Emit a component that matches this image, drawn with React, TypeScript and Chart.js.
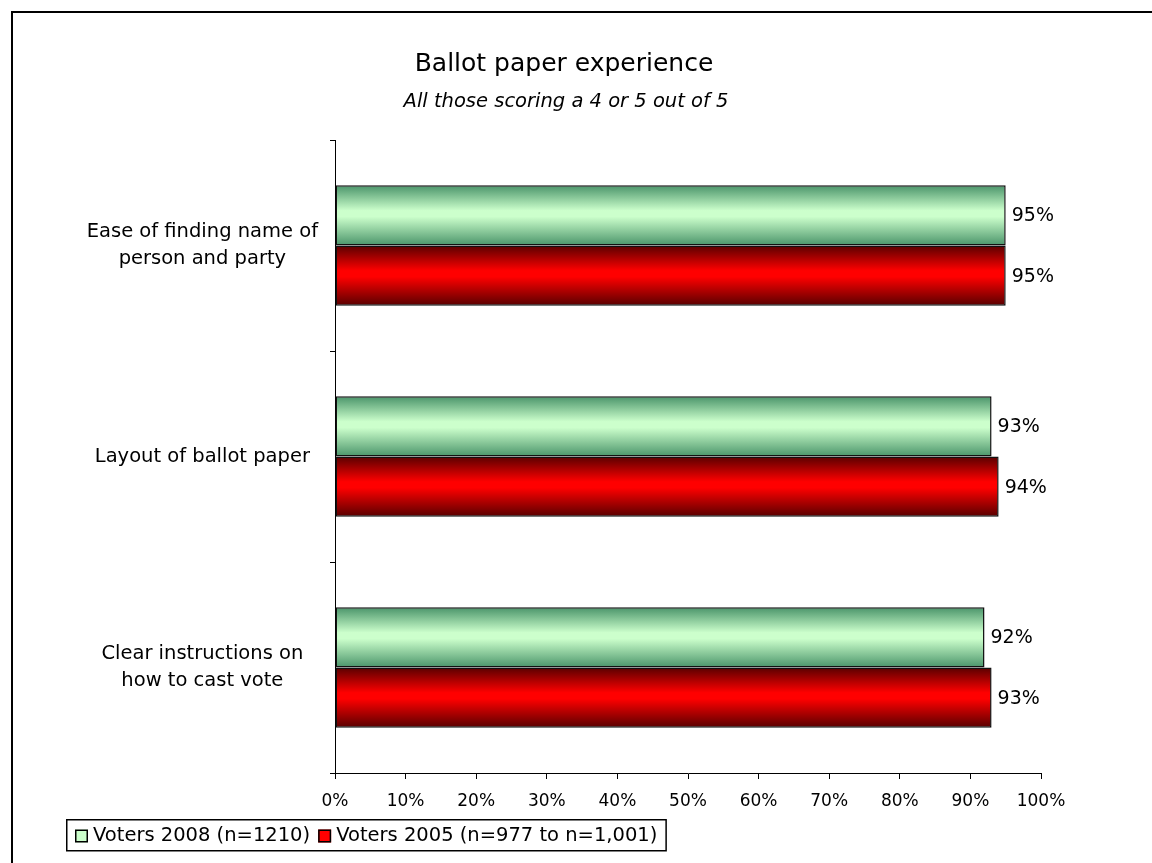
import React, { useEffect, useRef } from "react";
import { Chart, registerables } from "chart.js";

Chart.register(...registerables);

const categories: string[][] = [
  ["Ease of finding name of", "person and party"],
  ["Layout of ballot paper"],
  ["Clear instructions on", "how to cast vote"],
];
const seriesNames = ["Voters 2008 (n=1210)", "Voters 2005 (n=977 to n=1,001)"];
const voters2008 = [95, 93, 92];
const voters2005 = [95, 94, 93];
const xTickValues = [0, 10, 20, 30, 40, 50, 60, 70, 80, 90, 100];
const titleText = "Ballot paper experience";
const subtitleText = "All those scoring a 4 or 5 out of 5";

const FONT = '"DejaVu Sans", Verdana, sans-serif';

const gradientStops = [
  ["#4a946a", "#ccffcc"],
  ["#580000", "#ff0000"],
];
const swatchFill = ["#ccffcc", "#ff0000"];

const gradientPlugin = {
  id: "barGradient",
  beforeDatasetsDraw(chart: any) {
    const ctx = chart.ctx;
    chart.data.datasets.forEach((_ds: any, di: number) => {
      const meta = chart.getDatasetMeta(di);
      const [edge, mid] = gradientStops[di];
      meta.data.forEach((el: any) => {
        const { y, height } = el.getProps(["y", "height"], true);
        const top = y - height / 2;
        const g = ctx.createLinearGradient(0, top, 0, top + height);
        g.addColorStop(0, edge);
        g.addColorStop(0.42, mid);
        g.addColorStop(0.52, mid);
        g.addColorStop(1, edge);
        el.options = Object.assign({}, el.options, { backgroundColor: g });
      });
    });
  },
};

const labelPlugin = {
  id: "valueLabels",
  afterDatasetsDraw(chart: any) {
    const ctx = chart.ctx;
    ctx.save();
    ctx.font = `19px ${FONT}`;
    ctx.fillStyle = "#000";
    ctx.textAlign = "left";
    ctx.textBaseline = "middle";
    chart.data.datasets.forEach((ds: any, di: number) => {
      const meta = chart.getDatasetMeta(di);
      meta.data.forEach((el: any, i: number) => {
        const { x, y } = el.getProps(["x", "y"], true);
        ctx.fillText(`${ds.data[i]}%`, x + 6, y + 1);
      });
    });
    ctx.restore();
  },
};

const framePlugin = {
  id: "frameTitleLegend",
  beforeDraw(chart: any) {
    const ctx = chart.ctx;
    ctx.save();
    ctx.fillStyle = "#fff";
    ctx.fillRect(0, 0, chart.width, chart.height);
    ctx.restore();
  },
  afterDraw(chart: any) {
    const ctx = chart.ctx;
    ctx.save();
    // outer frame
    ctx.strokeStyle = "#000";
    ctx.lineWidth = 2;
    ctx.strokeRect(12, 12, chart.width + 20, chart.height + 20);

    // title + subtitle
    ctx.fillStyle = "#000";
    ctx.textAlign = "center";
    ctx.textBaseline = "alphabetic";
    ctx.font = `25px ${FONT}`;
    ctx.fillText(titleText, 564, 71);
    ctx.font = `italic 19.5px ${FONT}`;
    ctx.fillText(subtitleText, 566, 107);

    // legend
    ctx.font = `19.5px ${FONT}`;
    ctx.textBaseline = "middle";
    ctx.textAlign = "left";
    const boxLeft = 66;
    const boxTop = 819;
    const boxH = 31;
    const cy = boxTop + boxH / 2 + 1;
    let x = boxLeft + 9;
    seriesNames.forEach((name, i) => {
      ctx.fillStyle = swatchFill[i];
      ctx.fillRect(x, cy - 6, 13, 13);
      ctx.lineWidth = 1.5;
      ctx.strokeStyle = "#000";
      ctx.strokeRect(x + 0.75, cy - 6 + 0.75, 11.5, 11.5);
      x += 18;
      ctx.fillStyle = "#000";
      ctx.fillText(name, x, cy);
      x += ctx.measureText(name).width + 8;
    });
    ctx.lineWidth = 1.5;
    ctx.strokeStyle = "#000";
    ctx.strokeRect(boxLeft + 0.75, boxTop + 0.75, x - boxLeft, boxH);
    ctx.restore();
  },
};

export default function App() {
  const canvasRef = useRef<HTMLCanvasElement | null>(null);

  useEffect(() => {
    if (!canvasRef.current) return;
    const chart = new Chart(canvasRef.current, {
      type: "bar",
      data: {
        labels: categories,
        datasets: [
          {
            label: seriesNames[0],
            data: voters2008,
            backgroundColor: () => swatchFill[0],
            borderColor: "#111",
            borderWidth: 1.5,
            borderSkipped: false,
            categoryPercentage: 0.57,
            barPercentage: 1,
          },
          {
            label: seriesNames[1],
            data: voters2005,
            backgroundColor: () => swatchFill[1],
            borderColor: "#111",
            borderWidth: 1.5,
            borderSkipped: false,
            categoryPercentage: 0.57,
            barPercentage: 1,
          },
        ],
      },
      options: {
        indexAxis: "y",
        animation: false,
        responsive: false,
        layout: { padding: { left: 0, right: 111, top: 140, bottom: 50 } },
        plugins: {
          legend: { display: false },
          tooltip: { enabled: false },
          title: { display: false },
        },
        scales: {
          x: {
            min: 0,
            max: 100,
            afterBuildTicks(scale: any) {
              scale.ticks = xTickValues.map((v) => ({ value: v }));
            },
            afterFit(scale: any) {
              scale.height = 40;
            },
            ticks: {
              color: "#000",
              font: { family: FONT, size: 17 },
              padding: 12,
              maxRotation: 0,
              autoSkip: false,
              callback: (v: any) => `${v}%`,
            },
            grid: {
              drawOnChartArea: false,
              drawTicks: true,
              tickLength: 6,
              color: "#000",
            },
            border: { color: "#000", width: 1 },
          },
          y: {
            afterFit(scale: any) {
              scale.width = 335;
            },
            ticks: {
              color: "#000",
              font: { family: FONT, size: 19.5, lineHeight: 1.385 },
              padding: 12,
              crossAlign: "center",
              autoSkip: false,
            },
            grid: {
              offset: true,
              drawOnChartArea: false,
              drawTicks: true,
              tickLength: 5,
              color: "#000",
            },
            border: { color: "#000", width: 1 },
          },
        },
      },
      plugins: [gradientPlugin, labelPlugin, framePlugin],
    });
    return () => chart.destroy();
  }, []);

  return (
    <div style={{ position: "absolute", left: 0, top: 0, width: 1152, height: 863 }}>
      <canvas ref={canvasRef} width={1152} height={863} />
    </div>
  );
}
